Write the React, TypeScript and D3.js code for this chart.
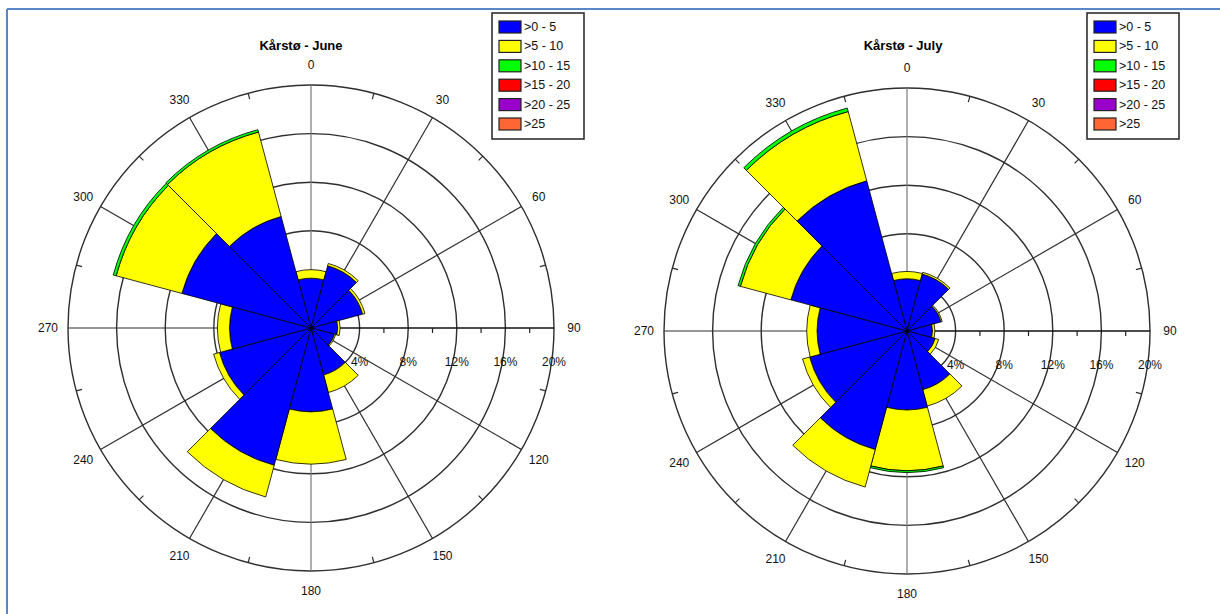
import React from "react";
import * as d3 from "d3";

const directions = [0, 30, 60, 90, 120, 150, 180, 210, 240, 270, 300, 330];
const speedClasses = [">0 - 5", ">5 - 10", ">10 - 15", ">15 - 20", ">20 - 25", ">25"];
const classColors = ["#0000ff", "#ffff00", "#00ff00", "#ff0000", "#9900cc", "#ff6633"];
const ringTicks = [4, 8, 12, 16, 20];
const halfTicks = [2, 6, 10, 14, 18];

// June: percent frequency per speed class, per direction
const juneS1 = [4.1, 5.3, 4.4, 2.2, 2.0, 4.0, 6.9, 11.7, 7.8, 6.7, 11.0, 9.5];
const juneS2 = [0.7, 0.2, 0.2, 0.2, 0.1, 1.5, 4.3, 2.7, 0.5, 1.0, 5.6, 7.2];
const juneS3 = [0, 0, 0, 0, 0, 0, 0, 0, 0, 0, 0.25, 0.2];
const juneS4 = [0, 0, 0, 0, 0, 0, 0, 0, 0, 0, 0, 0];
const juneS5 = [0, 0, 0, 0, 0, 0, 0, 0, 0, 0, 0, 0];
const juneS6 = [0, 0, 0, 0, 0, 0, 0, 0, 0, 0, 0, 0];

// July
const julyS1 = [4.3, 4.85, 2.9, 2.1, 2.4, 5.0, 6.5, 10.1, 8.3, 7.4, 9.9, 12.8];
const julyS2 = [0.6, 0.15, 0.1, 0.2, 0.3, 1.4, 5.0, 3.2, 0.6, 0.85, 4.3, 5.9];
const julyS3 = [0, 0, 0, 0, 0, 0, 0.15, 0, 0, 0, 0.2, 0.3];
const julyS4 = [0, 0, 0, 0, 0, 0, 0, 0, 0, 0, 0, 0];
const julyS5 = [0, 0, 0, 0, 0, 0, 0, 0, 0, 0, 0, 0];
const julyS6 = [0, 0, 0, 0, 0, 0, 0, 0, 0, 0, 0, 0];

const FONT = "'Liberation Sans', Arial, sans-serif";
const toRad = (d: number) => (d * Math.PI) / 180;

type RoseProps = {
  cx: number;
  cy: number;
  title: string;
  titleX: number;
  series: number[][];
  legendX: number;
};

function Rose({ cx, cy, title, titleX, series, legendX }: RoseProps) {
  const R = 243;
  const r = d3.scaleLinear().domain([0, 20]).range([0, R]);
  const arc = d3.arc<any>();
  const gridColor = "#2e2e2e";

  const stacked = directions.map((dir, i) => {
    let acc = 0;
    return series.map((s, k) => {
      const y0 = acc;
      acc += s[i];
      return { dir, k, y0, y1: acc };
    });
  });

  const pt = (deg: number, rad: number) => [
    cx + rad * Math.sin(toRad(deg)),
    cy - rad * Math.cos(toRad(deg)),
  ];

  return (
    <g>
      <text x={titleX} y={50} textAnchor="middle" fontFamily={FONT} fontWeight="bold" fontSize={13}>
        {title}
      </text>
      {ringTicks.map((t) => (
        <circle key={t} cx={cx} cy={cy} r={r(t)} fill="none" stroke={gridColor} strokeWidth={1.4} />
      ))}
      {directions.map((d) => {
        const [x, y] = pt(d, R);
        const col = d === 0 || d === 180 ? "#7a7a7a" : d === 90 ? "#111" : gridColor;
        return <line key={d} x1={cx} y1={cy} x2={x} y2={y} stroke={col} strokeWidth={d === 90 ? 1.6 : 1.2} />;
      })}
      {directions.map((d) => {
        const [x1, y1] = pt(d + 15, R);
        const [x2, y2] = pt(d + 15, R - 6);
        return <line key={"t" + d} x1={x1} y1={y1} x2={x2} y2={y2} stroke={gridColor} strokeWidth={1.2} />;
      })}
      {halfTicks.map((t) => (
        <line key={"h" + t} x1={cx + r(t)} y1={cy} x2={cx + r(t)} y2={cy + 5} stroke="#222" strokeWidth={1.2} />
      ))}
      {stacked.map((col) =>
        col.map((s) =>
          s.y1 > s.y0 ? (
            <path
              key={s.dir + "-" + s.k}
              transform={`translate(${cx},${cy})`}
              d={
                arc({
                  innerRadius: r(s.y0),
                  outerRadius: r(s.y1),
                  startAngle: toRad(s.dir - 15),
                  endAngle: toRad(s.dir + 15),
                }) as string
              }
              fill={classColors[s.k]}
              stroke="#000"
              strokeWidth={0.8}
            />
          ) : null
        )
      )}
      {directions.map((d) => {
        const [x, y] = pt(d, 263);
        return (
          <text key={"l" + d} x={x} y={y} textAnchor="middle" dominantBaseline="central" fontFamily={FONT} fontSize={12} fill="#111">
            {d}
          </text>
        );
      })}
      {ringTicks.map((t) => (
        <text key={"p" + t} x={cx + r(t)} y={cy + 34} textAnchor="middle" dominantBaseline="central" fontFamily={FONT} fontSize={12} fill="#111">
          {t + "%"}
        </text>
      ))}
      <rect x={legendX} y={13} width={92} height={126} fill="#fff" stroke="#222" strokeWidth={1.5} />
      {speedClasses.map((s, i) => (
        <g key={s}>
          <rect x={legendX + 7} y={21 + i * 19.4} width={22} height={12} fill={classColors[i]} stroke="#222" strokeWidth={1.2} />
          <text x={legendX + 32} y={27 + i * 19.4} dominantBaseline="central" fontFamily={FONT} fontSize={12.5} fill="#111">
            {s}
          </text>
        </g>
      ))}
    </g>
  );
}

export default function App() {
  const june = [juneS1, juneS2, juneS3, juneS4, juneS5, juneS6];
  const july = [julyS1, julyS2, julyS3, julyS4, julyS5, julyS6];
  return (
    <svg width={1220} height={614} style={{ position: "absolute", left: 0, top: 0, background: "#fff" }}>
      <line x1={7} y1={9} x2={1220} y2={9} stroke="#5b87c5" strokeWidth={2} />
      <line x1={7} y1={9} x2={7} y2={614} stroke="#5b87c5" strokeWidth={2} />
      <Rose cx={311} cy={328} title="Kårstø - June" titleX={301} series={june} legendX={492} />
      <Rose cx={907} cy={331} title="Kårstø - July" titleX={903} series={july} legendX={1087} />
    </svg>
  );
}
